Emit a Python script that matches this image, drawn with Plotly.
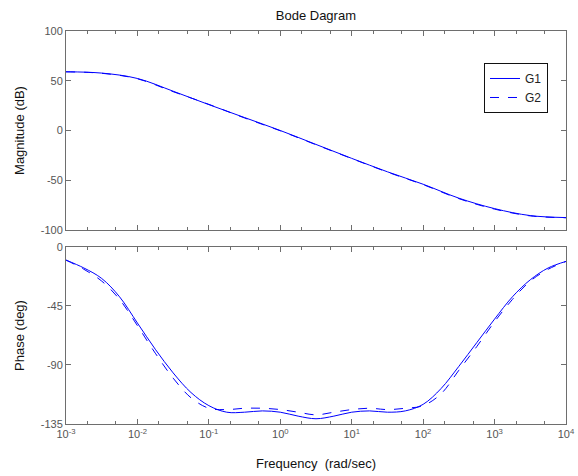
import numpy as np
import plotly.graph_objects as go
from plotly.subplots import make_subplots

# log10 of frequency (rad/sec)
log_w_mag = [-3, -2.5, -2, -1.5, -1, -0.5, 0, 0.5, 1, 1.5, 2, 2.5, 3, 3.5, 4]
mag_g1 = [59, 57.7, 52.3, 39.5, 26, 13, 0, -14, -28, -41.5, -54, -68, -78.5, -85.5, -87.5]
mag_g2 = [59, 57.5, 52.0, 39.0, 26.3, 12.6, -0.3, -14.3, -28.2, -41.8, -54.4, -68.5, -79, -85.8, -87.7]

log_w_ph = [-3, -2.75, -2.5, -2.25, -2, -1.75, -1.5, -1.25, -1, -0.75, -0.5, -0.25,
            0, 0.25, 0.5, 0.75, 1, 1.25, 1.5, 1.75, 2, 2.25, 2.5, 2.75, 3, 3.25, 3.5, 3.75, 4]
ph_g1 = [-10, -16, -24, -38, -58, -78, -96, -111, -121, -126, -126, -125,
         -126, -129, -131, -129, -126, -125, -126, -125, -120, -108, -91, -73, -55, -38, -25, -16, -11]
ph_g2 = [-10, -17, -26, -40, -60, -81, -100, -115, -123, -124, -123, -123,
         -124, -126, -128, -126, -124, -123, -124, -123, -121, -112, -94, -76, -57, -40, -26, -17, -11]

mag_ticks = [-100, -50, 0, 50, 100]
ph_ticks = [-135, -90, -45, 0]
x_exps = [-3, -2, -1, 0, 1, 2, 3, 4]

w_mag = [10 ** v for v in log_w_mag]
w_ph = [10 ** v for v in log_w_ph]
x_tickvals = [10 ** e for e in x_exps]
x_ticktext = ["10<sup>%d</sup>" % e for e in x_exps]

BLUE = "#0000ff"
AX = "#6e6e6e"
FONT = "Liberation Sans, Arial, sans-serif"
LBL = dict(size=13, color="#111", family=FONT)

fig = make_subplots(rows=2, cols=1, shared_xaxes=False, vertical_spacing=0.0)

fig.add_trace(go.Scatter(x=w_mag, y=mag_g1, mode="lines", name="G1",
                         line=dict(color=BLUE, width=1, shape="spline")), row=1, col=1)
fig.add_trace(go.Scatter(x=w_mag, y=mag_g2, mode="lines", name="G2",
                         line=dict(color=BLUE, width=1, dash="dash", shape="spline")), row=1, col=1)
fig.add_trace(go.Scatter(x=w_ph, y=ph_g1, mode="lines", name="G1", showlegend=False,
                         line=dict(color=BLUE, width=1, shape="spline")), row=2, col=1)
fig.add_trace(go.Scatter(x=w_ph, y=ph_g2, mode="lines", name="G2", showlegend=False,
                         line=dict(color=BLUE, width=1, dash="dash", shape="spline")), row=2, col=1)

xcommon = dict(type="log", range=[-3, 4], tickvals=x_tickvals, ticktext=x_ticktext,
               showgrid=False, zeroline=False, automargin=False,
               showline=True, linecolor=AX, linewidth=1, mirror="ticks",
               ticks="inside", ticklen=5, tickcolor=AX,
               minor=dict(ticks="inside", ticklen=3, tickcolor=AX, showgrid=False),
               tickfont=dict(size=11, color="#555", family=FONT))
ycommon = dict(showgrid=False, zeroline=False, automargin=False,
               showline=True, linecolor=AX, linewidth=1,
               mirror="ticks", ticks="inside", ticklen=5, tickcolor=AX,
               tickfont=dict(size=11, color="#555", family=FONT))

fig.update_xaxes(**xcommon)
fig.update_xaxes(showticklabels=False, row=1, col=1)
fig.update_xaxes(title=dict(text="Frequency  (rad/sec)", font=LBL, standoff=19), row=2, col=1)
fig.update_yaxes(**ycommon)
fig.update_yaxes(range=[-100, 100], tickvals=mag_ticks, ticktext=[str(v) for v in mag_ticks],
                 title=dict(text="Magnitude (dB)", font=LBL, standoff=13),
                 domain=[0.4936, 1.0], row=1, col=1)
fig.update_yaxes(range=[-135, 0], tickvals=ph_ticks, ticktext=[str(v) for v in ph_ticks],
                 title=dict(text="Phase (deg)", font=LBL, standoff=13),
                 domain=[0.0, 0.4504], row=2, col=1)

fig.update_layout(
    width=578, height=476,
    margin=dict(l=66, r=12, t=31, b=52, autoexpand=False),
    plot_bgcolor="white", paper_bgcolor="white",
    font=dict(family=FONT, size=11, color="#222"),
    title=dict(text="Bode Dagram", x=0.5465, xanchor="center", y=0.968, yanchor="middle",
               font=LBL),
    legend=dict(x=0.964, xanchor="right", y=0.9186, yanchor="top",
                bgcolor="white", bordercolor="#111", borderwidth=1,
                font=dict(size=12, color="#222", family=FONT),
                tracegroupgap=2, itemwidth=30),
    showlegend=True,
)

fig.write_html("out.html", config={"displayModeBar": False},
               post_script="document.body.style.margin='0';")
